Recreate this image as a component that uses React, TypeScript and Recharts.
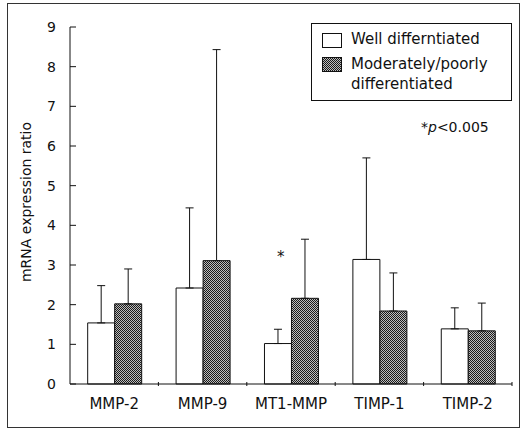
import { BarChart, Bar, XAxis, YAxis, ErrorBar } from 'recharts'

const categories = ['MMP-2', 'MMP-9', 'MT1-MMP', 'TIMP-1', 'TIMP-2']
const wellMean = [1.54, 2.42, 1.02, 3.14, 1.39]
const wellTop = [2.48, 4.44, 1.38, 5.7, 1.92]
const modMean = [2.02, 3.11, 2.16, 1.84, 1.34]
const modTop = [2.9, 8.43, 3.65, 2.8, 2.04]
const yTicks = [0, 1, 2, 3, 4, 5, 6, 7, 8, 9]

const data = categories.map((name, i) => ({
  name,
  well: wellMean[i],
  wellErr: [0, +(wellTop[i] - wellMean[i]).toFixed(2)],
  mod: modMean[i],
  modErr: [0, +(modTop[i] - modMean[i]).toFixed(2)],
}))

const W = 527
const H = 429
const X_AXIS_H = 30
const M = { top: 27, right: 15, bottom: 45 - X_AXIS_H, left: 10 }
const Y_AXIS_W = 60
const PLOT_W = W - M.left - M.right - Y_AXIS_W
const BAND = PLOT_W / categories.length
const FONT = '"DejaVu Sans", sans-serif'
const INK = '#111'

function XTick(props: any) {
  const { x, y, payload } = props
  return (
    <g>
      <line x1={x + BAND / 2} x2={x + BAND / 2} y1={y} y2={y - 4} stroke={INK} />
      <text x={x} y={y + 23} textAnchor="middle" fontSize={15} fontFamily={FONT} fill={INK}>
        {payload.value}
      </text>
    </g>
  )
}

function YTick(props: any) {
  const { x, y, payload } = props
  return (
    <g>
      <line x1={x + 14} x2={x + 20} y1={y} y2={y} stroke={INK} />
      <text x={x} y={y + 5} textAnchor="end" fontSize={14} fontFamily={FONT} fill={INK}>
        {payload.value}
      </text>
    </g>
  )
}

const swatch = (fill: string) => ({
  position: 'absolute' as const,
  width: 18,
  height: 13,
  border: `1px solid ${INK}`,
  background: fill,
})

export default function App() {
  return (
    <div style={{ position: 'absolute', left: 0, top: 0, width: W, height: H, background: '#fff', fontFamily: FONT, color: INK }}>
      <div style={{ position: 'absolute', left: 7, top: 3, width: 511, height: 423, border: '1px solid #333' }} />
      <BarChart width={W} height={H} data={data} margin={M} barCategoryGap="20%" barGap={0}>
        <defs>
          <pattern id="dots" width="2" height="2" patternUnits="userSpaceOnUse">
            <rect width="2" height="2" fill="#bdbdbd" />
            <rect width="1" height="1" fill="#1a1a1a" />
            <rect x="1" y="1" width="1" height="1" fill="#1a1a1a" />
          </pattern>
        </defs>
        <XAxis
          dataKey="name"
          height={X_AXIS_H}
          axisLine={{ stroke: INK }}
          tickLine={false}
          tickSize={0}
          tick={XTick}
          interval={0}
        />
        <YAxis
          width={Y_AXIS_W}
          domain={[0, 9]}
          ticks={yTicks}
          axisLine={{ stroke: INK }}
          tickLine={false}
          tickSize={0}
          tickMargin={14}
          tick={YTick}
          label={{
            content: () => (
              <text x={31} y={202} transform="rotate(-90 31 202)" textAnchor="middle" fontSize={14} fontFamily={FONT} fill={INK}>
                mRNA expression ratio
              </text>
            ),
          }}
        />
        <Bar dataKey="well" fill="#fff" stroke={INK} strokeWidth={1} isAnimationActive={false}>
          <ErrorBar dataKey="wellErr" width={4} stroke={INK} strokeWidth={1} isAnimationActive={false} />
        </Bar>
        <Bar dataKey="mod" fill="url(#dots)" stroke={INK} strokeWidth={1} isAnimationActive={false}>
          <ErrorBar dataKey="modErr" width={4} stroke={INK} strokeWidth={1} isAnimationActive={false} />
        </Bar>
      </BarChart>

      {/* legend */}
      <div style={{ position: 'absolute', left: 311, top: 23, width: 199, height: 76, border: `1px solid ${INK}`, background: '#fff', fontSize: 15 }}>
        <div style={{ ...swatch('#fff'), left: 10, top: 9 }} />
        <div style={{ position: 'absolute', left: 39, top: 6 }}>Well differntiated</div>
        <div style={{ ...swatch('repeating-conic-gradient(#1a1a1a 0 25%, #bdbdbd 0 50%) 0 0 / 2px 2px'), left: 10, top: 33 }} />
        <div style={{ position: 'absolute', left: 39, top: 30, lineHeight: '20px' }}>
          Moderately/poorly
          <br />
          differentiated
        </div>
      </div>

      {/* annotations */}
      <div style={{ position: 'absolute', left: 277, top: 248, fontSize: 15 }}>*</div>
      <div style={{ position: 'absolute', left: 421, top: 119, fontSize: 14 }}>
        *<i>p</i>&lt;0.005
      </div>
    </div>
  )
}
